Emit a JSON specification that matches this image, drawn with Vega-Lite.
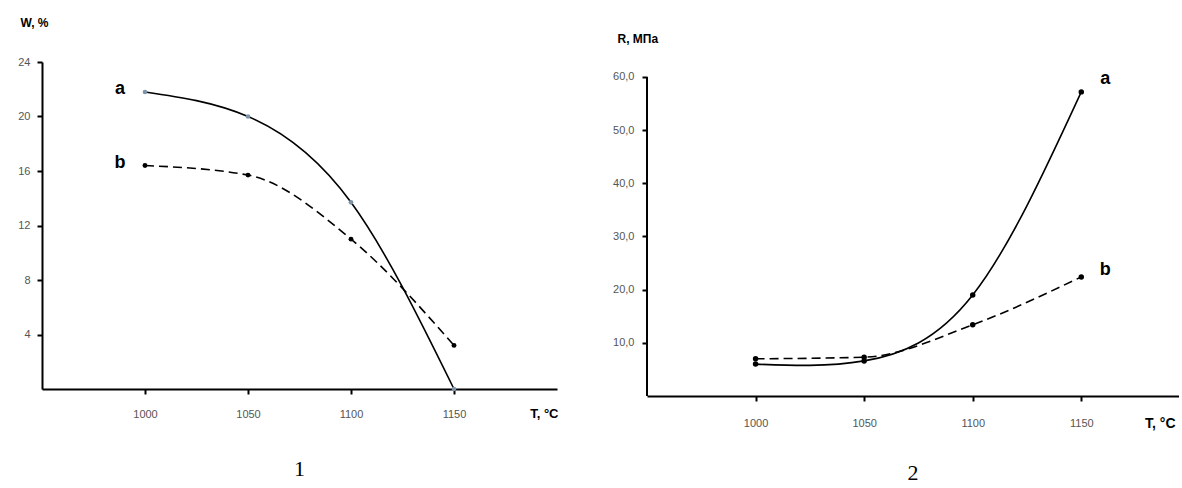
{
  "$schema": "https://vega.github.io/schema/vega-lite/v6.json",
  "background": "white",
  "padding": {"left": 17, "top": 16, "right": 0, "bottom": 0},
  "spacing": 90,
  "bounds": "flush",
  "datasets": {
    "w": [
      {"T": 1000, "W": 21.8, "s": "a"},
      {"T": 1050, "W": 20.0, "s": "a"},
      {"T": 1100, "W": 13.7, "s": "a"},
      {"T": 1150, "W": 0.0, "s": "a"},
      {"T": 1000, "W": 16.4, "s": "b"},
      {"T": 1050, "W": 15.7, "s": "b"},
      {"T": 1100, "W": 11.0, "s": "b"},
      {"T": 1150, "W": 3.2, "s": "b"}
    ],
    "r": [
      {"T": 1000, "R": 6.0, "s": "a"},
      {"T": 1050, "R": 6.6, "s": "a"},
      {"T": 1100, "R": 19.0, "s": "a"},
      {"T": 1150, "R": 57.2, "s": "a"},
      {"T": 1000, "R": 7.0, "s": "b"},
      {"T": 1050, "R": 7.3, "s": "b"},
      {"T": 1100, "R": 13.4, "s": "b"},
      {"T": 1150, "R": 22.4, "s": "b"}
    ]
  },
  "config": {
    "view": {"stroke": null},
    "axis": {
      "grid": false,
      "domainColor": "black",
      "domainWidth": 2,
      "tickColor": "black",
      "tickWidth": 2,
      "tickSize": 5,
      "labelColor": "#555555",
      "labelFont": "Liberation Sans",
      "labelFontSize": 11,
      "titleFont": "Liberation Sans",
      "titleColor": "black"
    }
  },
  "hconcat": [
    {
      "width": 515,
      "height": 327,
      "data": {"name": "w"},
      "title": {"text": "1", "orient": "bottom", "font": "Liberation Serif", "fontSize": 22, "fontWeight": "normal", "color": "black", "offset": 39},
      "encoding": {
        "x": {"field": "T", "type": "quantitative",
          "scale": {"domain": [950, 1200], "nice": false, "zero": false},
          "axis": {"values": [1000, 1050, 1100, 1150], "format": "d", "labelPadding": 14,
            "title": "T, °C", "titleAnchor": "end", "titleAlign": "right", "titleX": 516, "titleY": 24, "titleBaseline": "middle", "titleFontSize": 13, "titleFontWeight": "bold"}},
        "y": {"field": "W", "type": "quantitative",
          "scale": {"domain": [0, 24], "nice": false},
          "axis": {"values": [4, 8, 12, 16, 20, 24], "labelPadding": 7,
            "title": "W, %", "titleAngle": 0, "titleAlign": "left", "titleBaseline": "middle", "titleX": -22, "titleY": -40, "titleFontSize": 12, "titleFontWeight": "bold"}}
      },
      "layer": [
        {"transform": [{"filter": "datum.s == 'a'"}],
          "mark": {"type": "line", "interpolate": "natural", "color": "black", "strokeWidth": 1.6}},
        {"transform": [{"filter": "datum.s == 'b'"}],
          "mark": {"type": "line", "interpolate": "monotone", "color": "black", "strokeWidth": 1.6, "strokeDash": [9, 5]}},
        {"transform": [{"filter": "datum.s == 'a'"}],
          "mark": {"type": "point", "filled": true, "color": "#7f93a8", "size": 22, "opacity": 1}},
        {"transform": [{"filter": "datum.s == 'b'"}],
          "mark": {"type": "point", "filled": true, "color": "black", "size": 24, "opacity": 1}},
        {"transform": [{"filter": "datum.T == 1000"}],
          "mark": {"type": "text", "dx": -25, "dy": -3, "font": "Liberation Sans", "fontSize": 18, "fontWeight": "bold", "color": "black"},
          "encoding": {"text": {"field": "s"}}}
      ]
    },
    {
      "width": 532,
      "height": 334,
      "data": {"name": "r"},
      "title": {"text": "2", "orient": "bottom", "font": "Liberation Serif", "fontSize": 22, "fontWeight": "normal", "color": "black", "offset": 33},
      "encoding": {
        "x": {"field": "T", "type": "quantitative",
          "scale": {"domain": [950, 1195], "nice": false, "zero": false},
          "axis": {"values": [1000, 1050, 1100, 1150], "format": "d", "labelPadding": 16,
            "title": "T, °C", "titleAnchor": "end", "titleAlign": "right", "titleX": 528, "titleY": 27, "titleBaseline": "middle", "titleFontSize": 14, "titleFontWeight": "bold"}},
        "y": {"field": "R", "type": "quantitative",
          "scale": {"domain": [0, 62.82], "nice": false},
          "axis": {"values": [10, 20, 30, 40, 50, 60], "domain": false, "labelPadding": 8,
            "labelExpr": "replace(format(datum.value, '.1f'), '.', ',')",
            "title": "R, МПа", "titleAngle": 0, "titleAlign": "left", "titleBaseline": "middle", "titleX": -30, "titleY": -24, "titleFontSize": 12, "titleFontWeight": "bold"}}
      },
      "layer": [
        {"mark": {"type": "rule", "color": "black", "strokeWidth": 2},
          "encoding": {"x": {"datum": 950}, "y": {"datum": 0}, "y2": {"datum": 60}}},
        {"transform": [{"filter": "datum.s == 'a'"}],
          "mark": {"type": "line", "interpolate": "natural", "color": "black", "strokeWidth": 1.6}},
        {"transform": [{"filter": "datum.s == 'b'"}],
          "mark": {"type": "line", "interpolate": "monotone", "color": "black", "strokeWidth": 1.6, "strokeDash": [9, 5]}},
        {"mark": {"type": "point", "filled": true, "color": "black", "size": 30, "opacity": 1}},
        {"transform": [{"filter": "datum.T == 1150 && datum.s == 'a'"}],
          "mark": {"type": "text", "dx": 24, "dy": -13, "font": "Liberation Sans", "fontSize": 18, "fontWeight": "bold", "color": "black"},
          "encoding": {"text": {"field": "s"}}},
        {"transform": [{"filter": "datum.T == 1150 && datum.s == 'b'"}],
          "mark": {"type": "text", "dx": 24, "dy": -7, "font": "Liberation Sans", "fontSize": 18, "fontWeight": "bold", "color": "black"},
          "encoding": {"text": {"field": "s"}}}
      ]
    }
  ]
}
